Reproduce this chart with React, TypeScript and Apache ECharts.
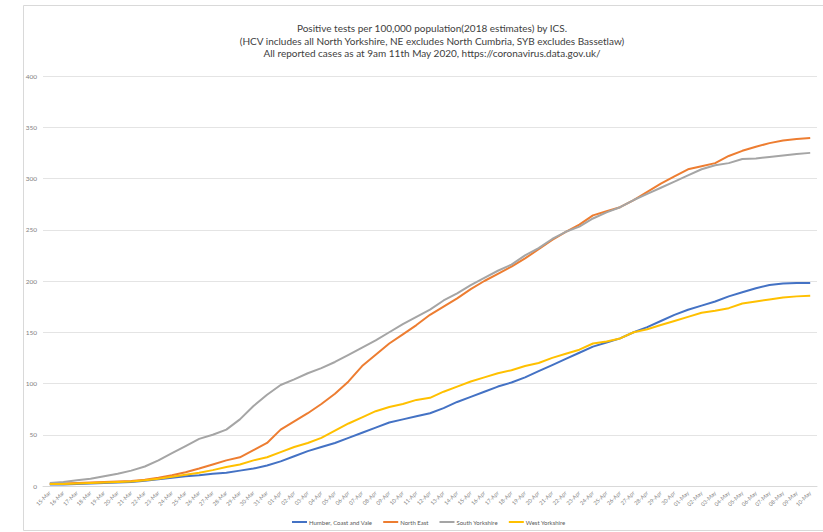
import React, { useEffect, useRef } from "react";
import * as echarts from "echarts";

// Reporting dates (daily, 15 March – 10 May 2020)
const dates = [
  "15-Mar", "16-Mar", "17-Mar", "18-Mar", "19-Mar", "20-Mar", "21-Mar", "22-Mar", "23-Mar",
  "24-Mar", "25-Mar", "26-Mar", "27-Mar", "28-Mar", "29-Mar", "30-Mar", "31-Mar",
  "01-Apr", "02-Apr", "03-Apr", "04-Apr", "05-Apr", "06-Apr", "07-Apr", "08-Apr", "09-Apr",
  "10-Apr", "11-Apr", "12-Apr", "13-Apr", "14-Apr", "15-Apr", "16-Apr", "17-Apr", "18-Apr",
  "19-Apr", "20-Apr", "21-Apr", "22-Apr", "23-Apr", "24-Apr", "25-Apr", "26-Apr", "27-Apr",
  "28-Apr", "29-Apr", "30-Apr",
  "01-May", "02-May", "03-May", "04-May", "05-May", "06-May", "07-May", "08-May", "09-May", "10-May",
];

// Cumulative positive tests per 100,000 population
const humberCoastVale = [
  1.5, 1.5, 2, 2.5, 3, 3.5, 4, 5, 6.5, 8, 9.5, 10.5, 12, 13, 15, 17, 20,
  24, 29, 34, 38, 42, 47, 52, 57, 62, 65, 68, 71, 76, 82, 87, 92, 97, 101,
  106, 112, 118, 124, 130, 136, 140, 144, 150, 155, 161, 167,
  172, 176, 180, 185, 189, 193, 196, 197.5, 198, 198,
];
const northEast = [
  2, 2.5, 3, 3.5, 4, 4.5, 5, 6, 8, 10.5, 13.5, 17, 21, 25, 28, 35, 42,
  55, 63, 71, 80, 90, 102, 117, 128, 139, 148, 157, 167, 175, 183, 192, 200, 207, 214,
  222, 231, 240, 248, 255, 264, 268, 272, 279, 287, 295, 302,
  309, 312, 315, 322, 327, 331, 334.5, 337, 338.5, 339.5,
];
const southYorkshire = [
  3, 4, 5.5, 7, 9.5, 12, 15, 19, 25, 32, 39, 46, 50, 55, 65, 78, 89,
  98.5, 104, 110, 115, 121, 128, 135, 142, 150, 158, 165, 172, 181, 188, 196, 203, 210, 216,
  225, 232, 241, 248, 253, 261, 267, 272, 279, 285, 291, 297,
  303, 309, 313, 315, 319, 319.5, 321, 322.5, 324, 325,
];
const westYorkshire = [
  2, 2, 2.5, 3, 3.5, 4, 4.5, 5.5, 7, 9, 11, 13, 15.5, 18.5, 21, 25, 28,
  33, 38, 42, 47, 54, 61, 67, 73, 77, 80, 84, 86, 92, 97, 102, 106, 110, 113,
  117, 120, 125, 129, 133, 139, 141, 144, 150, 153, 157, 161,
  165, 169, 171, 173.5, 178, 180, 182, 184, 185, 185.5,
];

const seriesNames = ["Humber, Coast and Vale", "North East", "South Yorkshire", "West Yorkshire"];
const seriesValues = [humberCoastVale, northEast, southYorkshire, westYorkshire];
const seriesColors = ["#4472C4", "#ED7D31", "#A5A5A5", "#FFC000"];

const titleLines = [
  "Positive tests per 100,000 population(2018 estimates) by ICS.",
  "(HCV includes all North Yorkshire, NE excludes North Cumbria, SYB excludes Bassetlaw)",
  "All reported cases as at 9am 11th May 2020, https://coronavirus.data.gov.uk/",
];

const FONT = "Lato, 'Open Sans', sans-serif";

export default function App() {
  const ref = useRef<HTMLDivElement>(null);

  useEffect(() => {
    document.body.style.margin = "0";
    const chart = echarts.init(ref.current!, null, { renderer: "svg" });

    chart.setOption({
      animation: false,
      backgroundColor: "#ffffff",
      textStyle: { fontFamily: FONT },
      graphic: [
        {
          type: "rect",
          shape: { x: 23.5, y: 5.5, width: 820, height: 525 },
          style: { fill: "none", stroke: "#d9d9d9", lineWidth: 1 },
          silent: true,
        },
        ...titleLines.map((t, i) => ({
          type: "text",
          x: 432,
          y: 28 + i * 12.5,
          style: {
            text: t,
            fill: "#404040",
            font: `10px ${FONT}`,
            textAlign: "center",
            textVerticalAlign: "middle",
          },
        })),
      ],
      legend: {
        left: 287,
        top: 514,
        itemWidth: 15,
        itemHeight: 2,
        itemGap: 11,
        icon: "rect",
        textStyle: { fontSize: 6, color: "#595959", fontFamily: FONT, padding: [0, 0, 0, -3] },
        data: seriesNames,
      },
      grid: { left: 43, right: 6, top: 76, bottom: 46, containLabel: false },
      xAxis: {
        type: "category",
        data: dates,
        boundaryGap: true,
        axisLine: { show: true, lineStyle: { color: "#d9d9d9", width: 1 } },
        axisTick: { show: false },
        axisLabel: {
          interval: 0,
          rotate: 45,
          fontSize: 5.5,
          color: "#7f7f7f",
          margin: 6,
        },
      },
      yAxis: {
        type: "value",
        min: 0,
        max: 400,
        interval: 50,
        axisLine: { show: false },
        axisTick: { show: false },
        axisLabel: { fontSize: 6.5, color: "#7f7f7f", margin: 6 },
        splitLine: { lineStyle: { color: "#e4e4e4", width: 1 } },
      },
      series: seriesNames.map((name, i) => ({
        name,
        type: "line",
        data: seriesValues[i],
        showSymbol: false,
        symbol: "none",
        lineStyle: { color: seriesColors[i], width: 2 },
        itemStyle: { color: seriesColors[i] },
        z: 2 + i,
      })),
    });

    return () => chart.dispose();
  }, []);

  return <div ref={ref} style={{ width: 823, height: 532 }} />;
}
